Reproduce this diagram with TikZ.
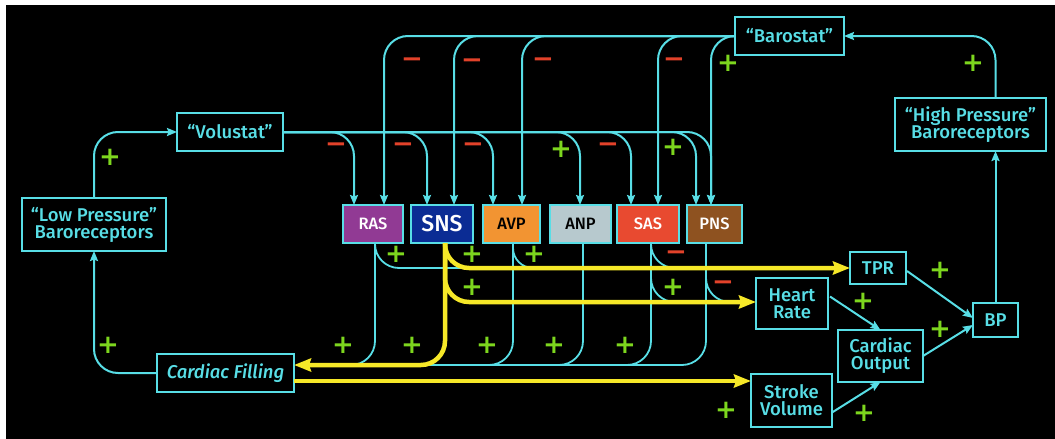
\documentclass[tikz,border=0pt]{standalone}
\usepackage{fontspec}
\setmainfont{Fira Sans}[UprightFont=* Medium, ItalicFont=* Medium Italic]
\newfontfamily\signfont{DejaVu Sans}
\usetikzlibrary{arrows.meta,calc}
\definecolor{cy}{RGB}{88,222,230}
\definecolor{yl}{RGB}{246,232,40}
\definecolor{gr}{RGB}{125,214,30}
\definecolor{rd}{RGB}{226,66,42}
\definecolor{rasc}{RGB}{145,58,148}
\definecolor{snsc}{RGB}{11,44,148}
\definecolor{avpc}{RGB}{242,148,50}
\definecolor{anpc}{RGB}{183,201,206}
\definecolor{sasc}{RGB}{232,74,48}
\definecolor{pnsc}{RGB}{142,82,32}
\tikzset{
  lbl/.style={draw=cy, line width=2pt, text=cy, font=\fontsize{18.5}{20}\selectfont, align=center, inner sep=0pt, outer sep=0pt},
  hbox/.style={draw=cy, line width=2pt, font=\fontsize{16.5}{18}\selectfont, inner sep=0pt, outer sep=0pt, minimum height=38pt},
  carr/.style={draw=cy, line width=2pt, -{Stealth[length=10pt,width=8pt,inset=1.5pt]}},
  cln/.style={draw=cy, line width=1.8pt},
  yarr/.style={draw=yl, line width=4.5pt, -{Stealth[length=17pt,width=13pt,inset=2pt]}},
  sp/.style={text=gr, font=\signfont\bfseries\fontsize{26}{26}\selectfont, inner sep=0pt},
  sm/.style={text=rd, font=\signfont\bfseries\fontsize{26}{26}\selectfont, inner sep=0pt}
}
\begin{document}
\begin{tikzpicture}[x=1pt,y=-1pt]
\useasboundingbox (0,0) rectangle (1055,439);
\fill[white] (0,0) rectangle (1055,439);
\fill[black] (6,5) rectangle (1055,439);

% boxes
\node[lbl, minimum width=106pt, minimum height=38pt] (vol) at (230,132) {“Volustat”};
\node[lbl, minimum width=144pt, minimum height=53pt] (lp) at (94,224.5) {“Low Pressure”\\[-3pt]Baroreceptors};
\node[lbl, minimum width=137pt, minimum height=38pt, font=\fontsize{18.5}{20}\selectfont\itshape] (cf) at (225.5,373) {Cardiac Filling};
\node[hbox, fill=rasc, text=white, minimum width=60pt] (ras) at (373,224) {RAS};
\node[hbox, fill=snsc, text=white, minimum width=62pt, font=\fontsize{23}{25}\selectfont] (sns) at (442,224) {SNS};
\node[hbox, fill=avpc, text=black, minimum width=57pt] (avp) at (511.5,224) {AVP};
\node[hbox, fill=anpc, text=black, minimum width=61pt] (anp) at (580.5,224) {ANP};
\node[hbox, fill=sasc, text=white, minimum width=62pt] (sas) at (648,224) {SAS};
\node[hbox, fill=pnsc, text=white, minimum width=55pt] (pns) at (714.5,224) {PNS};
\node[lbl, minimum width=109pt, minimum height=38pt] (baro) at (789.5,36) {“Barostat”};
\node[lbl, minimum width=151pt, minimum height=53pt] (hp) at (970.5,124.5) {“High Pressure”\\[-3pt]Baroreceptors};
\node[lbl, minimum width=45pt, minimum height=34pt] (bp) at (995.5,320) {BP};
\node[lbl, minimum width=56pt, minimum height=32pt] (tpr) at (878,268) {TPR};
\node[lbl, minimum width=72pt, minimum height=51pt] (hr) at (792,303.5) {Heart\\[-3pt]Rate};
\node[lbl, minimum width=85pt, minimum height=52pt] (co) at (880.5,356) {Cardiac\\[-3pt]Output};
\node[lbl, minimum width=81pt, minimum height=53pt] (sv) at (791.5,400.5) {Stroke\\[-3pt]Volume};

% entry points on top of the row boxes
\coordinate (rasV) at ($(ras.north west)+(11,0)$);
\coordinate (rasB) at ($(ras.north west)+(41,0)$);
\coordinate (snsV) at ($(sns.north west)+(16,0)$);
\coordinate (snsB) at ($(sns.north west)+(43,0)$);
\coordinate (avpV) at ($(avp.north west)+(10,0)$);
\coordinate (avpB) at ($(avp.north west)+(39,0)$);
\coordinate (anpV) at ($(anp.north west)+(30,0)$);
\coordinate (sasV) at ($(sas.north west)+(14,0)$);
\coordinate (sasB) at ($(sas.north west)+(41,0)$);
\coordinate (pnsV) at ($(pns.north west)+(9,0)$);
\coordinate (pnsB) at ($(pns.north west)+(24,0)$);
% exit points at the bottom
\coordinate (rasX) at ($(ras.south west)+(32,0)$);
\coordinate (snsX) at ($(sns.south west)+(34,0)$);
\coordinate (avpX) at ($(avp.south west)+(30,0)$);
\coordinate (anpX) at ($(anp.south west)+(33,0)$);
\coordinate (sasX) at ($(sas.south west)+(34,0)$);
\coordinate (pnsX) at ($(pns.south west)+(19,0)$);
\coordinate (cfIn) at ($(cf.east)+(0,-8)$);
\coordinate (cfOut) at ($(cf.east)+(0,8)$);
\coordinate (hpTop) at (bp.north |- hp.north);
\coordinate (hpBot) at (bp.north |- hp.south);
\coordinate (hrIn) at ($(hr.west)+(0,-1.5)$);
\coordinate (tprOut) at ($(tpr.east)+(1,3)$);
\coordinate (bpIn1) at ($(bp.west)+(0,-2)$);
\coordinate (bpIn2) at ($(bp.west)+(0,5)$);
\coordinate (hrOut) at ($(hr.east)+(2,-7)$);
\coordinate (svOut) at ($(sv.east)+(0,12)$);

% left loop
\draw[carr, rounded corners=24] (lp.north) |- (vol.west);
\draw[carr, rounded corners=24] (cf.west) -| (lp.south);

% Volustat branches
\foreach \t in {rasV,snsV,avpV,anpV,sasV,pnsV,pnsB}
  \draw[carr, rounded corners=24] (vol.east) -| (\t);
% Barostat branches
\foreach \t in {rasB,snsB,avpB,sasB,pnsB}
  \draw[carr, rounded corners=24] (baro.west) -| (\t);

% right side
\draw[carr, rounded corners=24] (hpTop) |- (baro.east);
\draw[carr] (bp.north) -- (hpBot);
\draw[carr] (tprOut) -- (bpIn1);
\draw[carr] (co.east) -- (bpIn2);
\draw[carr] (hrOut) -- (co.north);
\draw[carr] (svOut) -- (co.south);

% cyan effector lines
\draw[cln, rounded corners=24, shorten >=20pt] (rasX) |- (tpr.west);
\draw[cln, rounded corners=20, shorten >=20pt] (avpX) |- (tpr.west);
\draw[cln, rounded corners=24, shorten >=20pt] (sasX) |- (tpr.west);
\draw[cln, rounded corners=24, shorten >=20pt] (sasX) |- (hrIn);
\draw[cln, rounded corners=24, shorten >=20pt] (pnsX) |- (hrIn);
\foreach \s in {rasX,avpX,anpX,sasX,pnsX}
  \draw[cln, rounded corners=24, shorten >=20pt] (\s) |- (cfIn);

% yellow lines
\draw[yarr, rounded corners=24] (snsX) |- (tpr.west);
\draw[yarr, rounded corners=24] (snsX) |- (hrIn);
\draw[yarr, rounded corners=24] (snsX) |- (cfIn);
\draw[yarr] (cfOut) -- (cfOut -| sv.west);

% signs
\node[sm] (m1) at (336,148) {−};
\node[sm] (m2) at (403,148) {−};
\node[sm] (m3) at (473,148) {−};
\node[sp] (p1) at (561,149) {+};
\node[sm] (m4) at (608,148) {−};
\node[sp] (p2) at (673,147) {+};
\node[sm] (m5) at (412,63) {−};
\node[sm] (m6) at (472,64) {−};
\node[sm] (m7) at (543,63) {−};
\node[sm] (m8) at (674,63) {−};
\node[sp] (p3) at (728,63) {+};
\node[sp] (p4) at (110,157) {+};
\node[sp] (p5) at (108,345) {+};
\node[sp] (p6) at (973,63) {+};
\node[sp] (p7) at (396,254) {+};
\node[sp] (p8) at (472,254) {+};
\node[sp] (p9) at (534,254) {+};
\node[sm] (m9) at (676,256) {−};
\node[sp] (p10) at (472,287) {+};
\node[sp] (p11) at (673,287) {+};
\node[sm] (m10) at (723,286) {−};
\node[sp] (p12) at (343,345) {+};
\node[sp] (p13) at (412,345) {+};
\node[sp] (p14) at (487,345) {+};
\node[sp] (p15) at (554,345) {+};
\node[sp] (p16) at (625,345) {+};
\node[sp] (p17) at (940,270) {+};
\node[sp] (p18) at (940,329) {+};
\node[sp] (p19) at (863,301) {+};
\node[sp] (p20) at (864,413) {+};
\node[sp] (p21) at (726,410) {+};
\end{tikzpicture}
\end{document}
